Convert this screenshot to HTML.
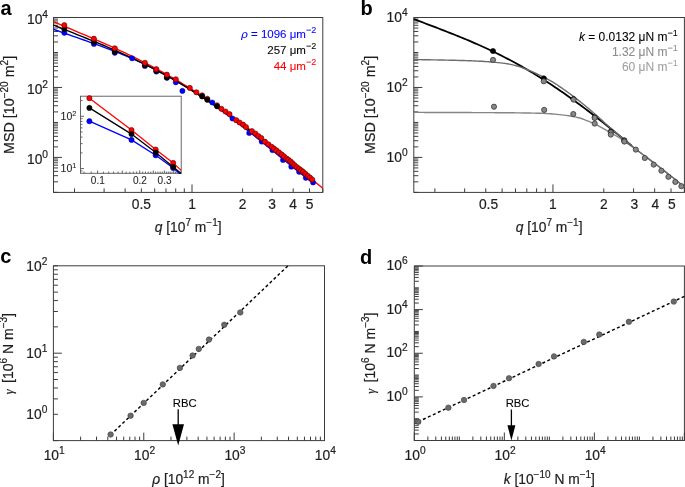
<!DOCTYPE html>
<html><head><meta charset="utf-8"><title>Figure</title>
<style>
html,body{margin:0;padding:0;background:#fff;width:685px;height:487px;overflow:hidden;}
svg{display:block;font-family:"Liberation Sans", sans-serif;will-change:transform;}
</style></head><body>
<svg width="685" height="487" viewBox="0 0 685 487">
<rect width="685" height="487" fill="#fff"/>
<text x="0.4" y="14.6" font-size="20" font-weight="bold" fill="#000">a</text>
<text x="360.4" y="14.7" font-size="20" font-weight="bold" fill="#000">b</text>
<text x="0.3" y="263.3" font-size="20" font-weight="bold" fill="#000">c</text>
<text x="359.9" y="263.9" font-size="20" font-weight="bold" fill="#000">d</text>
<line x1="74.50" y1="192.40" x2="74.50" y2="188.40" stroke="#3c3c3c" stroke-width="1" />
<line x1="104.10" y1="192.40" x2="104.10" y2="188.40" stroke="#3c3c3c" stroke-width="1" />
<line x1="125.10" y1="192.40" x2="125.10" y2="188.40" stroke="#3c3c3c" stroke-width="1" />
<line x1="141.39" y1="192.40" x2="141.39" y2="188.40" stroke="#3c3c3c" stroke-width="1" />
<line x1="154.70" y1="192.40" x2="154.70" y2="188.40" stroke="#3c3c3c" stroke-width="1" />
<line x1="165.96" y1="192.40" x2="165.96" y2="188.40" stroke="#3c3c3c" stroke-width="1" />
<line x1="175.71" y1="192.40" x2="175.71" y2="188.40" stroke="#3c3c3c" stroke-width="1" />
<line x1="184.30" y1="192.40" x2="184.30" y2="188.40" stroke="#3c3c3c" stroke-width="1" />
<line x1="192.00" y1="192.40" x2="192.00" y2="184.40" stroke="#3c3c3c" stroke-width="1" />
<line x1="242.60" y1="192.40" x2="242.60" y2="188.40" stroke="#3c3c3c" stroke-width="1" />
<line x1="272.20" y1="192.40" x2="272.20" y2="188.40" stroke="#3c3c3c" stroke-width="1" />
<line x1="293.20" y1="192.40" x2="293.20" y2="188.40" stroke="#3c3c3c" stroke-width="1" />
<line x1="309.49" y1="192.40" x2="309.49" y2="188.40" stroke="#3c3c3c" stroke-width="1" />
<line x1="322.80" y1="192.40" x2="322.80" y2="188.40" stroke="#3c3c3c" stroke-width="1" />
<line x1="53.50" y1="192.37" x2="58.00" y2="192.37" stroke="#3c3c3c" stroke-width="1" />
<line x1="53.50" y1="181.84" x2="58.00" y2="181.84" stroke="#3c3c3c" stroke-width="1" />
<line x1="53.50" y1="175.69" x2="58.00" y2="175.69" stroke="#3c3c3c" stroke-width="1" />
<line x1="53.50" y1="171.32" x2="58.00" y2="171.32" stroke="#3c3c3c" stroke-width="1" />
<line x1="53.50" y1="167.93" x2="58.00" y2="167.93" stroke="#3c3c3c" stroke-width="1" />
<line x1="53.50" y1="165.16" x2="58.00" y2="165.16" stroke="#3c3c3c" stroke-width="1" />
<line x1="53.50" y1="162.82" x2="58.00" y2="162.82" stroke="#3c3c3c" stroke-width="1" />
<line x1="53.50" y1="160.79" x2="58.00" y2="160.79" stroke="#3c3c3c" stroke-width="1" />
<line x1="53.50" y1="159.00" x2="58.00" y2="159.00" stroke="#3c3c3c" stroke-width="1" />
<line x1="53.50" y1="157.40" x2="62.00" y2="157.40" stroke="#3c3c3c" stroke-width="1" />
<line x1="53.50" y1="146.87" x2="58.00" y2="146.87" stroke="#3c3c3c" stroke-width="1" />
<line x1="53.50" y1="140.72" x2="58.00" y2="140.72" stroke="#3c3c3c" stroke-width="1" />
<line x1="53.50" y1="136.35" x2="58.00" y2="136.35" stroke="#3c3c3c" stroke-width="1" />
<line x1="53.50" y1="132.96" x2="58.00" y2="132.96" stroke="#3c3c3c" stroke-width="1" />
<line x1="53.50" y1="130.19" x2="58.00" y2="130.19" stroke="#3c3c3c" stroke-width="1" />
<line x1="53.50" y1="127.85" x2="58.00" y2="127.85" stroke="#3c3c3c" stroke-width="1" />
<line x1="53.50" y1="125.82" x2="58.00" y2="125.82" stroke="#3c3c3c" stroke-width="1" />
<line x1="53.50" y1="124.03" x2="58.00" y2="124.03" stroke="#3c3c3c" stroke-width="1" />
<line x1="53.50" y1="122.43" x2="58.00" y2="122.43" stroke="#3c3c3c" stroke-width="1" />
<line x1="53.50" y1="111.90" x2="58.00" y2="111.90" stroke="#3c3c3c" stroke-width="1" />
<line x1="53.50" y1="105.75" x2="58.00" y2="105.75" stroke="#3c3c3c" stroke-width="1" />
<line x1="53.50" y1="101.38" x2="58.00" y2="101.38" stroke="#3c3c3c" stroke-width="1" />
<line x1="53.50" y1="97.99" x2="58.00" y2="97.99" stroke="#3c3c3c" stroke-width="1" />
<line x1="53.50" y1="95.22" x2="58.00" y2="95.22" stroke="#3c3c3c" stroke-width="1" />
<line x1="53.50" y1="92.88" x2="58.00" y2="92.88" stroke="#3c3c3c" stroke-width="1" />
<line x1="53.50" y1="90.85" x2="58.00" y2="90.85" stroke="#3c3c3c" stroke-width="1" />
<line x1="53.50" y1="89.06" x2="58.00" y2="89.06" stroke="#3c3c3c" stroke-width="1" />
<line x1="53.50" y1="87.46" x2="62.00" y2="87.46" stroke="#3c3c3c" stroke-width="1" />
<line x1="53.50" y1="76.93" x2="58.00" y2="76.93" stroke="#3c3c3c" stroke-width="1" />
<line x1="53.50" y1="70.78" x2="58.00" y2="70.78" stroke="#3c3c3c" stroke-width="1" />
<line x1="53.50" y1="66.41" x2="58.00" y2="66.41" stroke="#3c3c3c" stroke-width="1" />
<line x1="53.50" y1="63.02" x2="58.00" y2="63.02" stroke="#3c3c3c" stroke-width="1" />
<line x1="53.50" y1="60.25" x2="58.00" y2="60.25" stroke="#3c3c3c" stroke-width="1" />
<line x1="53.50" y1="57.91" x2="58.00" y2="57.91" stroke="#3c3c3c" stroke-width="1" />
<line x1="53.50" y1="55.88" x2="58.00" y2="55.88" stroke="#3c3c3c" stroke-width="1" />
<line x1="53.50" y1="54.09" x2="58.00" y2="54.09" stroke="#3c3c3c" stroke-width="1" />
<line x1="53.50" y1="52.49" x2="58.00" y2="52.49" stroke="#3c3c3c" stroke-width="1" />
<line x1="53.50" y1="41.96" x2="58.00" y2="41.96" stroke="#3c3c3c" stroke-width="1" />
<line x1="53.50" y1="35.81" x2="58.00" y2="35.81" stroke="#3c3c3c" stroke-width="1" />
<line x1="53.50" y1="31.44" x2="58.00" y2="31.44" stroke="#3c3c3c" stroke-width="1" />
<line x1="53.50" y1="28.05" x2="58.00" y2="28.05" stroke="#3c3c3c" stroke-width="1" />
<line x1="53.50" y1="25.28" x2="58.00" y2="25.28" stroke="#3c3c3c" stroke-width="1" />
<line x1="53.50" y1="22.94" x2="58.00" y2="22.94" stroke="#3c3c3c" stroke-width="1" />
<line x1="53.50" y1="20.91" x2="58.00" y2="20.91" stroke="#3c3c3c" stroke-width="1" />
<line x1="53.50" y1="19.12" x2="58.00" y2="19.12" stroke="#3c3c3c" stroke-width="1" />
<line x1="53.50" y1="17.52" x2="62.00" y2="17.52" stroke="#3c3c3c" stroke-width="1" />
<rect x="53.50" y="17.50" width="269.30" height="174.90" fill="none" stroke="#3c3c3c" stroke-width="1"/>
<text x="141.39" y="209.1" font-size="13.8" text-anchor="middle" fill="#1e1e1e" stroke="#1e1e1e" stroke-width="0.2">0.5</text>
<text x="192.00" y="209.1" font-size="13.8" text-anchor="middle" fill="#1e1e1e" stroke="#1e1e1e" stroke-width="0.2">1</text>
<text x="242.60" y="209.1" font-size="13.8" text-anchor="middle" fill="#1e1e1e" stroke="#1e1e1e" stroke-width="0.2">2</text>
<text x="272.20" y="209.1" font-size="13.8" text-anchor="middle" fill="#1e1e1e" stroke="#1e1e1e" stroke-width="0.2">3</text>
<text x="293.20" y="209.1" font-size="13.8" text-anchor="middle" fill="#1e1e1e" stroke="#1e1e1e" stroke-width="0.2">4</text>
<text x="309.49" y="209.1" font-size="13.8" text-anchor="middle" fill="#1e1e1e" stroke="#1e1e1e" stroke-width="0.2">5</text>
<text x="48.00" y="24.32" font-size="13.8" text-anchor="end" fill="#1e1e1e" stroke="#1e1e1e" stroke-width="0.2">10<tspan dy="-6.3" font-size="10.2">4</tspan></text>
<text x="48.00" y="94.26" font-size="13.8" text-anchor="end" fill="#1e1e1e" stroke="#1e1e1e" stroke-width="0.2">10<tspan dy="-6.3" font-size="10.2">2</tspan></text>
<text x="48.00" y="164.20" font-size="13.8" text-anchor="end" fill="#1e1e1e" stroke="#1e1e1e" stroke-width="0.2">10<tspan dy="-6.3" font-size="10.2">0</tspan></text>
<svg x="53.5" y="17.5" width="269.3" height="174.9" viewBox="53.5 17.5 269.3 174.9" overflow="hidden">
<g fill="none" stroke-width="1.4">
<path d="M53.50,29.33 L56.79,30.52 L60.08,31.70 L63.37,32.86 L66.66,34.02 L69.96,35.16 L73.25,36.31 L76.54,37.45 L79.83,38.59 L83.12,39.74 L86.41,40.89 L89.70,42.05 L92.99,43.22 L96.28,44.40 L99.58,45.60 L102.87,46.81 L106.16,48.04 L109.45,49.29 L112.74,50.56 L116.03,51.86 L119.32,53.17 L122.61,54.52 L125.91,55.89 L129.20,57.29 L132.49,58.71 L135.78,60.17 L139.07,61.66 L142.36,63.18 L145.65,64.74 L148.94,66.33 L152.23,67.95 L155.53,69.61 L158.82,71.31 L162.11,73.04 L165.40,74.81 L168.69,76.61 L171.98,78.45 L175.27,80.34 L178.56,82.25 L181.85,84.21 L185.15,86.20 L188.44,88.23 L191.73,90.30 L195.02,92.40 L198.31,94.55 L201.60,96.72 L204.89,98.93 L208.18,101.18 L211.47,103.46 L214.77,105.78 L218.06,108.12 L221.35,110.50 L224.64,112.91 L227.93,115.35 L231.22,117.81 L234.51,120.30 L237.80,122.82 L241.09,125.36 L244.39,127.93 L247.68,130.51 L250.97,133.12 L254.26,135.74 L257.55,138.38 L260.84,141.03 L264.13,143.70 L267.42,146.37 L270.72,149.05 L274.01,151.74 L277.30,154.43 L280.59,157.12 L283.88,159.81 L287.17,162.50 L290.46,165.18 L293.75,167.85 L297.04,170.51 L300.34,173.15 L303.63,175.78 L306.92,178.38 L310.21,180.96 L313.50,183.51" stroke="#0000ff"/>
<path d="M53.50,21.68 L56.91,23.15 L60.32,24.60 L63.73,26.05 L67.14,27.49 L70.54,28.94 L73.95,30.38 L77.36,31.82 L80.77,33.27 L84.18,34.72 L87.59,36.17 L91.00,37.64 L94.41,39.11 L97.82,40.59 L101.22,42.09 L104.63,43.59 L108.04,45.11 L111.45,46.65 L114.86,48.20 L118.27,49.77 L121.68,51.36 L125.09,52.97 L128.49,54.59 L131.90,56.24 L135.31,57.91 L138.72,59.61 L142.13,61.32 L145.54,63.07 L148.95,64.83 L152.36,66.63 L155.77,68.44 L159.17,70.29 L162.58,72.16 L165.99,74.06 L169.40,75.99 L172.81,77.94 L176.22,79.93 L179.63,81.94 L183.04,83.99 L186.45,86.06 L189.85,88.16 L193.26,90.29 L196.67,92.45 L200.08,94.63 L203.49,96.85 L206.90,99.10 L210.31,101.37 L213.72,103.67 L217.13,106.00 L220.53,108.36 L223.94,110.75 L227.35,113.16 L230.76,115.60 L234.17,118.07 L237.58,120.56 L240.99,123.07 L244.40,125.61 L247.81,128.17 L251.21,130.76 L254.62,133.36 L258.03,135.99 L261.44,138.64 L264.85,141.30 L268.26,143.98 L271.67,146.68 L275.08,149.40 L278.48,152.13 L281.89,154.87 L285.30,157.63 L288.71,160.39 L292.12,163.17 L295.53,165.95 L298.94,168.74 L302.35,171.54 L305.76,174.33 L309.16,177.13 L312.57,179.93 L315.98,182.73 L319.39,185.53 L322.80,188.32" stroke="#ff0000"/>
<path d="M53.50,25.16 L56.78,26.47 L60.06,27.77 L63.34,29.07 L66.61,30.37 L69.89,31.67 L73.17,32.97 L76.45,34.28 L79.73,35.59 L83.01,36.91 L86.28,38.23 L89.56,39.56 L92.84,40.91 L96.12,42.26 L99.40,43.63 L102.68,45.01 L105.96,46.40 L109.23,47.81 L112.51,49.24 L115.79,50.68 L119.07,52.14 L122.35,53.62 L125.63,55.11 L128.91,56.63 L132.18,58.17 L135.46,59.73 L138.74,61.32 L142.02,62.92 L145.30,64.55 L148.58,66.21 L151.85,67.89 L155.13,69.59 L158.41,71.32 L161.69,73.08 L164.97,74.86 L168.25,76.67 L171.53,78.51 L174.80,80.38 L178.08,82.27 L181.36,84.19 L184.64,86.13 L187.92,88.11 L191.20,90.11 L194.47,92.15 L197.75,94.21 L201.03,96.29 L204.31,98.41 L207.59,100.55 L210.87,102.73 L214.15,104.93 L217.42,107.15 L220.70,109.41 L223.98,111.69 L227.26,114.00 L230.54,116.33 L233.82,118.69 L237.09,121.08 L240.37,123.49 L243.65,125.92 L246.93,128.38 L250.21,130.86 L253.49,133.37 L256.77,135.89 L260.04,138.44 L263.32,141.01 L266.60,143.60 L269.88,146.21 L273.16,148.84 L276.44,151.48 L279.72,154.14 L282.99,156.81 L286.27,159.50 L289.55,162.21 L292.83,164.93 L296.11,167.65 L299.39,170.39 L302.66,173.14 L305.94,175.89 L309.22,178.66 L312.50,181.42" stroke="#000000"/>
</g>
</svg>
<circle cx="64.30" cy="32.80" r="2.6" fill="#0000ff" stroke="#00008c" stroke-width="0.5"/>
<circle cx="93.90" cy="43.90" r="2.6" fill="#0000ff" stroke="#00008c" stroke-width="0.5"/>
<circle cx="114.80" cy="52.80" r="2.6" fill="#0000ff" stroke="#00008c" stroke-width="0.5"/>
<circle cx="132.10" cy="58.30" r="2.6" fill="#0000ff" stroke="#00008c" stroke-width="0.5"/>
<circle cx="144.90" cy="66.00" r="2.6" fill="#0000ff" stroke="#00008c" stroke-width="0.5"/>
<circle cx="156.30" cy="71.60" r="2.6" fill="#0000ff" stroke="#00008c" stroke-width="0.5"/>
<circle cx="166.90" cy="77.80" r="2.6" fill="#0000ff" stroke="#00008c" stroke-width="0.5"/>
<circle cx="175.80" cy="82.30" r="2.6" fill="#0000ff" stroke="#00008c" stroke-width="0.5"/>
<circle cx="182.40" cy="90.90" r="2.6" fill="#0000ff" stroke="#00008c" stroke-width="0.5"/>
<circle cx="212.30" cy="102.50" r="2.6" fill="#0000ff" stroke="#00008c" stroke-width="0.5"/>
<circle cx="232.50" cy="118.50" r="2.6" fill="#0000ff" stroke="#00008c" stroke-width="0.5"/>
<circle cx="249.20" cy="133.00" r="2.6" fill="#0000ff" stroke="#00008c" stroke-width="0.5"/>
<circle cx="261.70" cy="141.60" r="2.6" fill="#0000ff" stroke="#00008c" stroke-width="0.5"/>
<circle cx="272.40" cy="150.10" r="2.6" fill="#0000ff" stroke="#00008c" stroke-width="0.5"/>
<circle cx="283.00" cy="160.00" r="2.6" fill="#0000ff" stroke="#00008c" stroke-width="0.5"/>
<circle cx="291.30" cy="166.70" r="2.6" fill="#0000ff" stroke="#00008c" stroke-width="0.5"/>
<circle cx="299.10" cy="171.80" r="2.6" fill="#0000ff" stroke="#00008c" stroke-width="0.5"/>
<circle cx="305.80" cy="177.80" r="2.6" fill="#0000ff" stroke="#00008c" stroke-width="0.5"/>
<circle cx="313.10" cy="182.40" r="2.6" fill="#0000ff" stroke="#00008c" stroke-width="0.5"/>
<circle cx="64.30" cy="29.10" r="2.6" fill="#000" stroke="#000" stroke-width="0.6"/>
<circle cx="93.90" cy="42.10" r="2.6" fill="#000" stroke="#000" stroke-width="0.6"/>
<circle cx="114.80" cy="51.80" r="2.6" fill="#000" stroke="#000" stroke-width="0.6"/>
<circle cx="144.90" cy="65.20" r="2.6" fill="#000" stroke="#000" stroke-width="0.6"/>
<circle cx="156.30" cy="70.80" r="2.6" fill="#000" stroke="#000" stroke-width="0.6"/>
<circle cx="166.90" cy="77.40" r="2.6" fill="#000" stroke="#000" stroke-width="0.6"/>
<circle cx="64.30" cy="25.20" r="2.6" fill="#ff0000" stroke="#4a0000" stroke-width="0.6"/>
<circle cx="93.90" cy="38.70" r="2.6" fill="#ff0000" stroke="#4a0000" stroke-width="0.6"/>
<circle cx="114.80" cy="48.30" r="2.6" fill="#ff0000" stroke="#4a0000" stroke-width="0.6"/>
<circle cx="144.90" cy="62.80" r="2.6" fill="#ff0000" stroke="#4a0000" stroke-width="0.6"/>
<circle cx="156.30" cy="69.20" r="2.6" fill="#ff0000" stroke="#4a0000" stroke-width="0.6"/>
<circle cx="166.90" cy="74.65" r="2.6" fill="#ff0000" stroke="#4a0000" stroke-width="0.6"/>
<circle cx="175.80" cy="79.30" r="2.6" fill="#ff0000" stroke="#4a0000" stroke-width="0.6"/>
<circle cx="189.80" cy="87.90" r="2.6" fill="#ff0000" stroke="#4a0000" stroke-width="0.6"/>
<circle cx="196.40" cy="92.30" r="2.6" fill="#ff0000" stroke="#4a0000" stroke-width="0.6"/>
<circle cx="202.10" cy="95.40" r="2.6" fill="#ff0000" stroke="#4a0000" stroke-width="0.6"/>
<circle cx="207.30" cy="98.80" r="2.6" fill="#ff0000" stroke="#4a0000" stroke-width="0.6"/>
<circle cx="217.00" cy="105.30" r="2.6" fill="#ff0000" stroke="#4a0000" stroke-width="0.6"/>
<circle cx="221.40" cy="108.80" r="2.6" fill="#ff0000" stroke="#4a0000" stroke-width="0.6"/>
<circle cx="225.50" cy="111.50" r="2.6" fill="#ff0000" stroke="#4a0000" stroke-width="0.6"/>
<circle cx="229.50" cy="114.10" r="2.6" fill="#ff0000" stroke="#4a0000" stroke-width="0.6"/>
<circle cx="236.20" cy="120.20" r="2.6" fill="#ff0000" stroke="#4a0000" stroke-width="0.6"/>
<circle cx="239.60" cy="122.50" r="2.6" fill="#ff0000" stroke="#4a0000" stroke-width="0.6"/>
<circle cx="243.10" cy="124.70" r="2.6" fill="#ff0000" stroke="#4a0000" stroke-width="0.6"/>
<circle cx="246.00" cy="127.10" r="2.6" fill="#ff0000" stroke="#4a0000" stroke-width="0.6"/>
<circle cx="251.90" cy="131.10" r="2.6" fill="#ff0000" stroke="#4a0000" stroke-width="0.6"/>
<circle cx="255.40" cy="133.50" r="2.6" fill="#ff0000" stroke="#4a0000" stroke-width="0.6"/>
<circle cx="258.30" cy="136.00" r="2.6" fill="#ff0000" stroke="#4a0000" stroke-width="0.6"/>
<circle cx="261.30" cy="138.00" r="2.6" fill="#ff0000" stroke="#4a0000" stroke-width="0.6"/>
<circle cx="265.00" cy="141.70" r="2.6" fill="#ff0000" stroke="#4a0000" stroke-width="0.6"/>
<circle cx="268.40" cy="144.40" r="2.6" fill="#ff0000" stroke="#4a0000" stroke-width="0.6"/>
<circle cx="271.70" cy="146.80" r="2.6" fill="#ff0000" stroke="#4a0000" stroke-width="0.6"/>
<circle cx="274.00" cy="148.60" r="2.6" fill="#ff0000" stroke="#4a0000" stroke-width="0.6"/>
<circle cx="276.40" cy="150.40" r="2.6" fill="#ff0000" stroke="#4a0000" stroke-width="0.6"/>
<circle cx="279.00" cy="152.40" r="2.6" fill="#ff0000" stroke="#4a0000" stroke-width="0.6"/>
<circle cx="281.70" cy="154.40" r="2.6" fill="#ff0000" stroke="#4a0000" stroke-width="0.6"/>
<circle cx="284.00" cy="156.40" r="2.6" fill="#ff0000" stroke="#4a0000" stroke-width="0.6"/>
<circle cx="286.40" cy="158.40" r="2.6" fill="#ff0000" stroke="#4a0000" stroke-width="0.6"/>
<circle cx="288.40" cy="159.80" r="2.6" fill="#ff0000" stroke="#4a0000" stroke-width="0.6"/>
<circle cx="290.40" cy="161.30" r="2.6" fill="#ff0000" stroke="#4a0000" stroke-width="0.6"/>
<circle cx="292.40" cy="163.20" r="2.6" fill="#ff0000" stroke="#4a0000" stroke-width="0.6"/>
<circle cx="294.40" cy="165.10" r="2.6" fill="#ff0000" stroke="#4a0000" stroke-width="0.6"/>
<circle cx="296.80" cy="167.00" r="2.6" fill="#ff0000" stroke="#4a0000" stroke-width="0.6"/>
<circle cx="299.10" cy="168.80" r="2.6" fill="#ff0000" stroke="#4a0000" stroke-width="0.6"/>
<circle cx="301.10" cy="170.30" r="2.6" fill="#ff0000" stroke="#4a0000" stroke-width="0.6"/>
<circle cx="303.10" cy="171.80" r="2.6" fill="#ff0000" stroke="#4a0000" stroke-width="0.6"/>
<circle cx="305.40" cy="173.80" r="2.6" fill="#ff0000" stroke="#4a0000" stroke-width="0.6"/>
<circle cx="307.80" cy="175.80" r="2.6" fill="#ff0000" stroke="#4a0000" stroke-width="0.6"/>
<circle cx="310.00" cy="177.60" r="2.6" fill="#ff0000" stroke="#4a0000" stroke-width="0.6"/>
<circle cx="312.20" cy="179.50" r="2.6" fill="#ff0000" stroke="#4a0000" stroke-width="0.6"/>
<circle cx="202.10" cy="96.40" r="2.6" fill="#000" stroke="#000" stroke-width="0.6"/>
<circle cx="207.30" cy="99.80" r="2.6" fill="#000" stroke="#000" stroke-width="0.6"/>
<circle cx="217.00" cy="106.30" r="2.6" fill="#000" stroke="#000" stroke-width="0.6"/>
<text x="316.2" y="38.4" font-size="11.5" text-anchor="end" fill="#0000ff" stroke="#0000ff" stroke-width="0.08"><tspan font-style="italic">ρ</tspan> = 1096 μm<tspan dy="-5" font-size="9">−2</tspan></text>
<text x="316.2" y="54.1" font-size="11.5" text-anchor="end" fill="#000" stroke="#000" stroke-width="0.08">257 μm<tspan dy="-5" font-size="9">−2</tspan></text>
<text x="316.2" y="69.7" font-size="11.5" text-anchor="end" fill="#ff0000" stroke="#ff0000" stroke-width="0.08">44 μm<tspan dy="-5" font-size="9">−2</tspan></text>
<rect x="80.5" y="96.2" width="100.7" height="77.1" fill="#fff" stroke="none"/>
<line x1="84.04" y1="173.30" x2="84.04" y2="171.60" stroke="#3c3c3c" stroke-width="0.8" />
<line x1="91.20" y1="173.30" x2="91.20" y2="171.60" stroke="#3c3c3c" stroke-width="0.8" />
<line x1="97.60" y1="173.30" x2="97.60" y2="170.50" stroke="#3c3c3c" stroke-width="0.8" />
<line x1="103.39" y1="173.30" x2="103.39" y2="171.60" stroke="#3c3c3c" stroke-width="0.8" />
<line x1="108.68" y1="173.30" x2="108.68" y2="171.60" stroke="#3c3c3c" stroke-width="0.8" />
<line x1="113.54" y1="173.30" x2="113.54" y2="171.60" stroke="#3c3c3c" stroke-width="0.8" />
<line x1="118.04" y1="173.30" x2="118.04" y2="171.60" stroke="#3c3c3c" stroke-width="0.8" />
<line x1="122.24" y1="173.30" x2="122.24" y2="170.50" stroke="#3c3c3c" stroke-width="0.8" />
<line x1="126.16" y1="173.30" x2="126.16" y2="171.60" stroke="#3c3c3c" stroke-width="0.8" />
<line x1="129.84" y1="173.30" x2="129.84" y2="171.60" stroke="#3c3c3c" stroke-width="0.8" />
<line x1="133.31" y1="173.30" x2="133.31" y2="171.60" stroke="#3c3c3c" stroke-width="0.8" />
<line x1="136.60" y1="173.30" x2="136.60" y2="171.60" stroke="#3c3c3c" stroke-width="0.8" />
<line x1="139.71" y1="173.30" x2="139.71" y2="170.50" stroke="#3c3c3c" stroke-width="0.8" />
<line x1="142.68" y1="173.30" x2="142.68" y2="171.60" stroke="#3c3c3c" stroke-width="0.8" />
<line x1="145.50" y1="173.30" x2="145.50" y2="171.60" stroke="#3c3c3c" stroke-width="0.8" />
<line x1="148.21" y1="173.30" x2="148.21" y2="171.60" stroke="#3c3c3c" stroke-width="0.8" />
<line x1="150.79" y1="173.30" x2="150.79" y2="171.60" stroke="#3c3c3c" stroke-width="0.8" />
<line x1="153.27" y1="173.30" x2="153.27" y2="170.50" stroke="#3c3c3c" stroke-width="0.8" />
<line x1="155.65" y1="173.30" x2="155.65" y2="171.60" stroke="#3c3c3c" stroke-width="0.8" />
<line x1="157.95" y1="173.30" x2="157.95" y2="171.60" stroke="#3c3c3c" stroke-width="0.8" />
<line x1="160.16" y1="173.30" x2="160.16" y2="171.60" stroke="#3c3c3c" stroke-width="0.8" />
<line x1="162.29" y1="173.30" x2="162.29" y2="171.60" stroke="#3c3c3c" stroke-width="0.8" />
<line x1="164.35" y1="173.30" x2="164.35" y2="170.50" stroke="#3c3c3c" stroke-width="0.8" />
<line x1="166.34" y1="173.30" x2="166.34" y2="171.60" stroke="#3c3c3c" stroke-width="0.8" />
<line x1="168.27" y1="173.30" x2="168.27" y2="171.60" stroke="#3c3c3c" stroke-width="0.8" />
<line x1="170.14" y1="173.30" x2="170.14" y2="171.60" stroke="#3c3c3c" stroke-width="0.8" />
<line x1="171.95" y1="173.30" x2="171.95" y2="171.60" stroke="#3c3c3c" stroke-width="0.8" />
<line x1="173.72" y1="173.30" x2="173.72" y2="170.50" stroke="#3c3c3c" stroke-width="0.8" />
<line x1="175.43" y1="173.30" x2="175.43" y2="171.60" stroke="#3c3c3c" stroke-width="0.8" />
<line x1="177.09" y1="173.30" x2="177.09" y2="171.60" stroke="#3c3c3c" stroke-width="0.8" />
<line x1="178.71" y1="173.30" x2="178.71" y2="171.60" stroke="#3c3c3c" stroke-width="0.8" />
<line x1="180.29" y1="173.30" x2="180.29" y2="171.60" stroke="#3c3c3c" stroke-width="0.8" />
<line x1="80.50" y1="170.99" x2="82.50" y2="170.99" stroke="#3c3c3c" stroke-width="0.8" />
<line x1="80.50" y1="168.60" x2="84.00" y2="168.60" stroke="#3c3c3c" stroke-width="0.8" />
<line x1="80.50" y1="152.86" x2="82.50" y2="152.86" stroke="#3c3c3c" stroke-width="0.8" />
<line x1="80.50" y1="143.65" x2="82.50" y2="143.65" stroke="#3c3c3c" stroke-width="0.8" />
<line x1="80.50" y1="137.11" x2="82.50" y2="137.11" stroke="#3c3c3c" stroke-width="0.8" />
<line x1="80.50" y1="132.04" x2="82.50" y2="132.04" stroke="#3c3c3c" stroke-width="0.8" />
<line x1="80.50" y1="127.90" x2="82.50" y2="127.90" stroke="#3c3c3c" stroke-width="0.8" />
<line x1="80.50" y1="124.40" x2="82.50" y2="124.40" stroke="#3c3c3c" stroke-width="0.8" />
<line x1="80.50" y1="121.37" x2="82.50" y2="121.37" stroke="#3c3c3c" stroke-width="0.8" />
<line x1="80.50" y1="118.69" x2="82.50" y2="118.69" stroke="#3c3c3c" stroke-width="0.8" />
<line x1="80.50" y1="116.30" x2="84.00" y2="116.30" stroke="#3c3c3c" stroke-width="0.8" />
<line x1="80.50" y1="100.56" x2="82.50" y2="100.56" stroke="#3c3c3c" stroke-width="0.8" />
<rect x="80.50" y="96.20" width="100.70" height="77.10" fill="none" stroke="#555" stroke-width="0.9"/>
<text x="97.80" y="184.4" font-size="10" text-anchor="middle" fill="#1e1e1e" stroke="#1e1e1e" stroke-width="0.08">0.1</text>
<text x="139.91" y="184.4" font-size="10" text-anchor="middle" fill="#1e1e1e" stroke="#1e1e1e" stroke-width="0.08">0.2</text>
<text x="164.55" y="184.4" font-size="10" text-anchor="middle" fill="#1e1e1e" stroke="#1e1e1e" stroke-width="0.08">0.3</text>
<text x="76.40" y="120.00" font-size="10.5" text-anchor="end" fill="#1e1e1e" stroke="#1e1e1e" stroke-width="0.08">10<tspan dy="-4.4" font-size="7.4">2</tspan></text>
<text x="76.40" y="172.30" font-size="10.5" text-anchor="end" fill="#1e1e1e" stroke="#1e1e1e" stroke-width="0.08">10<tspan dy="-4.4" font-size="7.4">1</tspan></text>
<svg x="80.5" y="96.2" width="100.7" height="77.1" viewBox="80.5 96.2 100.7 77.1" overflow="hidden">
<polyline points="89.4,121.2 131.5,139.9 155.7,155.3 173.2,168.0 181.2,175.0" fill="none" stroke="#0000ff" stroke-width="1.3"/>
<polyline points="89.4,98.2 131.5,130.0 155.7,149.5 173.2,162.9 181.2,170.4" fill="none" stroke="#ff0000" stroke-width="1.3"/>
<polyline points="89.4,107.9 131.5,134.1 155.7,152.6 173.2,167.0 181.2,173.5" fill="none" stroke="#000000" stroke-width="1.3"/>
</svg>
<circle cx="89.40" cy="121.20" r="2.6" fill="#0000ff" stroke="#0000a0" stroke-width="0.6"/>
<circle cx="131.50" cy="139.90" r="2.6" fill="#0000ff" stroke="#0000a0" stroke-width="0.6"/>
<circle cx="155.70" cy="155.30" r="2.6" fill="#0000ff" stroke="#0000a0" stroke-width="0.6"/>
<circle cx="173.20" cy="168.00" r="2.6" fill="#0000ff" stroke="#0000a0" stroke-width="0.6"/>
<circle cx="89.40" cy="98.20" r="2.6" fill="#ff0000" stroke="#5a0000" stroke-width="0.6"/>
<circle cx="131.50" cy="130.00" r="2.6" fill="#ff0000" stroke="#5a0000" stroke-width="0.6"/>
<circle cx="155.70" cy="149.50" r="2.6" fill="#ff0000" stroke="#5a0000" stroke-width="0.6"/>
<circle cx="173.20" cy="162.90" r="2.6" fill="#ff0000" stroke="#5a0000" stroke-width="0.6"/>
<circle cx="89.40" cy="107.90" r="2.6" fill="#000000" stroke="#000" stroke-width="0.6"/>
<circle cx="131.50" cy="134.10" r="2.6" fill="#000000" stroke="#000" stroke-width="0.6"/>
<circle cx="155.70" cy="152.60" r="2.6" fill="#000000" stroke="#000" stroke-width="0.6"/>
<circle cx="173.20" cy="167.00" r="2.6" fill="#000000" stroke="#000" stroke-width="0.6"/>
<text x="188.2" y="231.9" font-size="13.8" text-anchor="middle" fill="#1e1e1e" stroke="#1e1e1e" stroke-width="0.2"><tspan font-style="italic">q</tspan> [10<tspan dy="-5.9" font-size="10">7</tspan><tspan dy="5.9"> m</tspan><tspan dy="-5.9" font-size="10">−1</tspan><tspan dy="5.9">]</tspan></text>
<text transform="translate(13.9,104.9) rotate(-90)" x="0" y="0" font-size="14.3" text-anchor="middle" fill="#1e1e1e" stroke="#1e1e1e" stroke-width="0.2">MSD [10<tspan dy="-5.9" font-size="10">−20</tspan><tspan dy="5.9"> m</tspan><tspan dy="-5.9" font-size="10">2</tspan><tspan dy="5.9">]</tspan></text>
<line x1="434.90" y1="192.40" x2="434.90" y2="188.40" stroke="#3c3c3c" stroke-width="1" />
<line x1="464.65" y1="192.40" x2="464.65" y2="188.40" stroke="#3c3c3c" stroke-width="1" />
<line x1="485.75" y1="192.40" x2="485.75" y2="188.40" stroke="#3c3c3c" stroke-width="1" />
<line x1="502.12" y1="192.40" x2="502.12" y2="188.40" stroke="#3c3c3c" stroke-width="1" />
<line x1="515.49" y1="192.40" x2="515.49" y2="188.40" stroke="#3c3c3c" stroke-width="1" />
<line x1="526.80" y1="192.40" x2="526.80" y2="188.40" stroke="#3c3c3c" stroke-width="1" />
<line x1="536.60" y1="192.40" x2="536.60" y2="188.40" stroke="#3c3c3c" stroke-width="1" />
<line x1="545.24" y1="192.40" x2="545.24" y2="188.40" stroke="#3c3c3c" stroke-width="1" />
<line x1="552.96" y1="192.40" x2="552.96" y2="184.40" stroke="#3c3c3c" stroke-width="1" />
<line x1="603.81" y1="192.40" x2="603.81" y2="188.40" stroke="#3c3c3c" stroke-width="1" />
<line x1="633.55" y1="192.40" x2="633.55" y2="188.40" stroke="#3c3c3c" stroke-width="1" />
<line x1="654.66" y1="192.40" x2="654.66" y2="188.40" stroke="#3c3c3c" stroke-width="1" />
<line x1="671.03" y1="192.40" x2="671.03" y2="188.40" stroke="#3c3c3c" stroke-width="1" />
<line x1="684.40" y1="192.40" x2="684.40" y2="188.40" stroke="#3c3c3c" stroke-width="1" />
<line x1="413.80" y1="192.37" x2="418.30" y2="192.37" stroke="#3c3c3c" stroke-width="1" />
<line x1="413.80" y1="181.84" x2="418.30" y2="181.84" stroke="#3c3c3c" stroke-width="1" />
<line x1="413.80" y1="175.69" x2="418.30" y2="175.69" stroke="#3c3c3c" stroke-width="1" />
<line x1="413.80" y1="171.32" x2="418.30" y2="171.32" stroke="#3c3c3c" stroke-width="1" />
<line x1="413.80" y1="167.93" x2="418.30" y2="167.93" stroke="#3c3c3c" stroke-width="1" />
<line x1="413.80" y1="165.16" x2="418.30" y2="165.16" stroke="#3c3c3c" stroke-width="1" />
<line x1="413.80" y1="162.82" x2="418.30" y2="162.82" stroke="#3c3c3c" stroke-width="1" />
<line x1="413.80" y1="160.79" x2="418.30" y2="160.79" stroke="#3c3c3c" stroke-width="1" />
<line x1="413.80" y1="159.00" x2="418.30" y2="159.00" stroke="#3c3c3c" stroke-width="1" />
<line x1="413.80" y1="157.40" x2="422.30" y2="157.40" stroke="#3c3c3c" stroke-width="1" />
<line x1="413.80" y1="146.87" x2="418.30" y2="146.87" stroke="#3c3c3c" stroke-width="1" />
<line x1="413.80" y1="140.72" x2="418.30" y2="140.72" stroke="#3c3c3c" stroke-width="1" />
<line x1="413.80" y1="136.35" x2="418.30" y2="136.35" stroke="#3c3c3c" stroke-width="1" />
<line x1="413.80" y1="132.96" x2="418.30" y2="132.96" stroke="#3c3c3c" stroke-width="1" />
<line x1="413.80" y1="130.19" x2="418.30" y2="130.19" stroke="#3c3c3c" stroke-width="1" />
<line x1="413.80" y1="127.85" x2="418.30" y2="127.85" stroke="#3c3c3c" stroke-width="1" />
<line x1="413.80" y1="125.82" x2="418.30" y2="125.82" stroke="#3c3c3c" stroke-width="1" />
<line x1="413.80" y1="124.03" x2="418.30" y2="124.03" stroke="#3c3c3c" stroke-width="1" />
<line x1="413.80" y1="122.43" x2="418.30" y2="122.43" stroke="#3c3c3c" stroke-width="1" />
<line x1="413.80" y1="111.90" x2="418.30" y2="111.90" stroke="#3c3c3c" stroke-width="1" />
<line x1="413.80" y1="105.75" x2="418.30" y2="105.75" stroke="#3c3c3c" stroke-width="1" />
<line x1="413.80" y1="101.38" x2="418.30" y2="101.38" stroke="#3c3c3c" stroke-width="1" />
<line x1="413.80" y1="97.99" x2="418.30" y2="97.99" stroke="#3c3c3c" stroke-width="1" />
<line x1="413.80" y1="95.22" x2="418.30" y2="95.22" stroke="#3c3c3c" stroke-width="1" />
<line x1="413.80" y1="92.88" x2="418.30" y2="92.88" stroke="#3c3c3c" stroke-width="1" />
<line x1="413.80" y1="90.85" x2="418.30" y2="90.85" stroke="#3c3c3c" stroke-width="1" />
<line x1="413.80" y1="89.06" x2="418.30" y2="89.06" stroke="#3c3c3c" stroke-width="1" />
<line x1="413.80" y1="87.46" x2="422.30" y2="87.46" stroke="#3c3c3c" stroke-width="1" />
<line x1="413.80" y1="76.93" x2="418.30" y2="76.93" stroke="#3c3c3c" stroke-width="1" />
<line x1="413.80" y1="70.78" x2="418.30" y2="70.78" stroke="#3c3c3c" stroke-width="1" />
<line x1="413.80" y1="66.41" x2="418.30" y2="66.41" stroke="#3c3c3c" stroke-width="1" />
<line x1="413.80" y1="63.02" x2="418.30" y2="63.02" stroke="#3c3c3c" stroke-width="1" />
<line x1="413.80" y1="60.25" x2="418.30" y2="60.25" stroke="#3c3c3c" stroke-width="1" />
<line x1="413.80" y1="57.91" x2="418.30" y2="57.91" stroke="#3c3c3c" stroke-width="1" />
<line x1="413.80" y1="55.88" x2="418.30" y2="55.88" stroke="#3c3c3c" stroke-width="1" />
<line x1="413.80" y1="54.09" x2="418.30" y2="54.09" stroke="#3c3c3c" stroke-width="1" />
<line x1="413.80" y1="52.49" x2="418.30" y2="52.49" stroke="#3c3c3c" stroke-width="1" />
<line x1="413.80" y1="41.96" x2="418.30" y2="41.96" stroke="#3c3c3c" stroke-width="1" />
<line x1="413.80" y1="35.81" x2="418.30" y2="35.81" stroke="#3c3c3c" stroke-width="1" />
<line x1="413.80" y1="31.44" x2="418.30" y2="31.44" stroke="#3c3c3c" stroke-width="1" />
<line x1="413.80" y1="28.05" x2="418.30" y2="28.05" stroke="#3c3c3c" stroke-width="1" />
<line x1="413.80" y1="25.28" x2="418.30" y2="25.28" stroke="#3c3c3c" stroke-width="1" />
<line x1="413.80" y1="22.94" x2="418.30" y2="22.94" stroke="#3c3c3c" stroke-width="1" />
<line x1="413.80" y1="20.91" x2="418.30" y2="20.91" stroke="#3c3c3c" stroke-width="1" />
<line x1="413.80" y1="19.12" x2="418.30" y2="19.12" stroke="#3c3c3c" stroke-width="1" />
<line x1="413.80" y1="17.52" x2="422.30" y2="17.52" stroke="#3c3c3c" stroke-width="1" />
<rect x="413.80" y="17.50" width="270.60" height="174.90" fill="none" stroke="#3c3c3c" stroke-width="1"/>
<text x="488.50" y="209.1" font-size="13.8" text-anchor="middle" fill="#1e1e1e" stroke="#1e1e1e" stroke-width="0.2">0.5</text>
<text x="552.96" y="209.1" font-size="13.8" text-anchor="middle" fill="#1e1e1e" stroke="#1e1e1e" stroke-width="0.2">1</text>
<text x="603.81" y="209.1" font-size="13.8" text-anchor="middle" fill="#1e1e1e" stroke="#1e1e1e" stroke-width="0.2">2</text>
<text x="634.35" y="209.1" font-size="13.8" text-anchor="middle" fill="#1e1e1e" stroke="#1e1e1e" stroke-width="0.2">3</text>
<text x="655.46" y="209.1" font-size="13.8" text-anchor="middle" fill="#1e1e1e" stroke="#1e1e1e" stroke-width="0.2">4</text>
<text x="671.83" y="209.1" font-size="13.8" text-anchor="middle" fill="#1e1e1e" stroke="#1e1e1e" stroke-width="0.2">5</text>
<text x="407.60" y="21.92" font-size="13.8" text-anchor="end" fill="#1e1e1e" stroke="#1e1e1e" stroke-width="0.2">10<tspan dy="-6.3" font-size="10.2">4</tspan></text>
<text x="407.60" y="91.86" font-size="13.8" text-anchor="end" fill="#1e1e1e" stroke="#1e1e1e" stroke-width="0.2">10<tspan dy="-6.3" font-size="10.2">2</tspan></text>
<text x="407.60" y="161.80" font-size="13.8" text-anchor="end" fill="#1e1e1e" stroke="#1e1e1e" stroke-width="0.2">10<tspan dy="-6.3" font-size="10.2">0</tspan></text>
<svg x="413.8" y="17.5" width="270.6" height="174.9" viewBox="413.8 17.5 270.6 174.9" overflow="hidden">
<path d="M413.80,112.40 L416.07,112.41 L418.35,112.41 L420.62,112.42 L422.90,112.42 L425.17,112.43 L427.44,112.43 L429.72,112.44 L431.99,112.45 L434.27,112.45 L436.54,112.46 L438.81,112.47 L441.09,112.47 L443.36,112.48 L445.64,112.49 L447.91,112.49 L450.18,112.50 L452.46,112.51 L454.73,112.52 L457.01,112.52 L459.28,112.53 L461.55,112.54 L463.83,112.55 L466.10,112.55 L468.37,112.56 L470.65,112.57 L472.92,112.58 L475.20,112.59 L477.47,112.60 L479.74,112.61 L482.02,112.62 L484.29,112.63 L486.57,112.63 L488.84,112.64 L491.11,112.65 L493.39,112.66 L495.66,112.68 L497.94,112.69 L500.21,112.70 L502.48,112.72 L504.76,112.73 L507.03,112.75 L509.31,112.78 L511.58,112.80 L513.85,112.82 L516.13,112.85 L518.40,112.88 L520.68,112.91 L522.95,112.94 L525.22,112.97 L527.50,113.01 L529.77,113.05 L532.05,113.09 L534.32,113.14 L536.59,113.19 L538.87,113.25 L541.14,113.32 L543.42,113.39 L545.69,113.49 L547.96,113.62 L550.24,113.77 L552.51,113.96 L554.78,114.16 L557.06,114.37 L559.33,114.59 L561.61,114.83 L563.88,115.10 L566.15,115.40 L568.43,115.73 L570.70,116.09 L572.98,116.48 L575.25,116.93 L577.52,117.45 L579.80,118.04 L582.07,118.77 L584.35,119.63 L586.62,120.55 L588.89,121.46 L591.17,122.41 L593.44,123.42 L595.72,124.49 L597.99,125.65 L600.26,126.87 L602.54,128.10 L604.81,129.35 L607.09,130.62 L609.36,131.90 L611.63,133.21 L613.91,134.50 L616.18,135.79 L618.46,137.13 L620.73,138.53 L623.00,140.05 L625.28,141.70 L627.55,143.39 L629.83,145.07 L632.10,146.71 L634.37,148.34 L636.65,149.97 L638.92,151.61 L641.19,153.28 L643.47,154.98 L645.74,156.68 L648.02,158.40 L650.29,160.12 L652.56,161.83 L654.84,163.55 L657.11,165.28 L659.39,167.03 L661.66,168.79 L663.93,170.58 L666.21,172.39 L668.48,174.20 L670.76,176.01 L673.03,177.82 L675.30,179.63 L677.58,181.44 L679.85,183.26 L682.13,185.08 L684.40,186.90" fill="none" stroke="#858585" stroke-width="1.4"/>
<path d="M413.80,18.99 L416.56,20.07 L419.32,21.13 L422.09,22.19 L424.85,23.25 L427.61,24.30 L430.37,25.35 L433.13,26.41 L435.90,27.46 L438.66,28.52 L441.42,29.58 L444.18,30.65 L446.94,31.73 L449.71,32.81 L452.47,33.90 L455.23,35.00 L457.99,36.11 L460.75,37.23 L463.52,38.37 L466.28,39.52 L469.04,40.68 L471.80,41.86 L474.56,43.05 L477.33,44.26 L480.09,45.49 L482.85,46.74 L485.61,48.00 L488.37,49.29 L491.14,50.59 L493.90,51.92 L496.66,53.26 L499.42,54.63 L502.18,56.02 L504.95,57.43 L507.71,58.87 L510.47,60.32 L513.23,61.81 L515.99,63.31 L518.76,64.84 L521.52,66.39 L524.28,67.97 L527.04,69.57 L529.81,71.19 L532.57,72.84 L535.33,74.52 L538.09,76.21 L540.85,77.94 L543.62,79.68 L546.38,81.45 L549.14,83.25 L551.90,85.07 L554.66,86.91 L557.43,88.77 L560.19,90.66 L562.95,92.57 L565.71,94.50 L568.47,96.46 L571.24,98.43 L574.00,100.43 L576.76,102.45 L579.52,104.48 L582.28,106.54 L585.05,108.61 L587.81,110.70 L590.57,112.81 L593.33,114.94 L596.09,117.08 L598.86,119.23 L601.62,121.40 L604.38,123.59 L607.14,125.78 L609.90,127.99 L612.67,130.20 L615.43,132.43 L618.19,134.66 L620.95,136.90 L623.71,139.15 L626.48,141.40 L629.24,143.66 L632.00,145.92" fill="none" stroke="#000" stroke-width="1.8"/>
<path d="M413.80,59.60 L416.07,59.62 L418.35,59.64 L420.62,59.67 L422.90,59.70 L425.17,59.73 L427.44,59.76 L429.72,59.80 L431.99,59.84 L434.27,59.88 L436.54,59.92 L438.81,59.96 L441.09,60.01 L443.36,60.06 L445.64,60.10 L447.91,60.15 L450.18,60.20 L452.46,60.26 L454.73,60.31 L457.01,60.37 L459.28,60.43 L461.55,60.50 L463.83,60.57 L466.10,60.64 L468.37,60.72 L470.65,60.80 L472.92,60.89 L475.20,60.98 L477.47,61.08 L479.74,61.20 L482.02,61.32 L484.29,61.46 L486.57,61.62 L488.84,61.79 L491.11,61.97 L493.39,62.17 L495.66,62.37 L497.94,62.59 L500.21,62.84 L502.48,63.12 L504.76,63.43 L507.03,63.78 L509.31,64.18 L511.58,64.64 L513.85,65.15 L516.13,65.71 L518.40,66.38 L520.68,67.15 L522.95,67.99 L525.22,68.86 L527.50,69.75 L529.77,70.69 L532.05,71.67 L534.32,72.70 L536.59,73.75 L538.87,74.83 L541.14,75.93 L543.42,77.06 L545.69,78.22 L547.96,79.42 L550.24,80.66 L552.51,81.96 L554.78,83.32 L557.06,84.78 L559.33,86.31 L561.61,87.89 L563.88,89.51 L566.15,91.14 L568.43,92.77 L570.70,94.42 L572.98,96.11 L575.25,97.84 L577.52,99.60 L579.80,101.39 L582.07,103.22 L584.35,105.07 L586.62,106.95 L588.89,108.85 L591.17,110.77 L593.44,112.73 L595.72,114.73 L597.99,116.76 L600.26,118.81 L602.54,120.87 L604.81,122.93 L607.09,124.97 L609.36,126.99 L611.63,128.98 L613.91,130.93 L616.18,132.87 L618.46,134.80 L620.73,136.71 L623.00,138.61 L625.28,140.49 L627.55,142.37 L629.83,144.24 L632.10,146.10 L634.37,147.94 L636.65,149.76 L638.92,151.56 L641.19,153.32 L643.47,155.04 L645.74,156.73 L648.02,158.41 L650.29,160.12 L652.56,161.83 L654.84,163.55 L657.11,165.28 L659.39,167.03 L661.66,168.79 L663.93,170.58 L666.21,172.39 L668.48,174.20 L670.76,176.01 L673.03,177.82 L675.30,179.63 L677.58,181.44 L679.85,183.26 L682.13,185.08 L684.40,186.90" fill="none" stroke="#6c6c6c" stroke-width="1.4"/>
</svg>
<circle cx="493.00" cy="51.00" r="2.6" fill="#000" stroke="#000" stroke-width="0.6"/>
<circle cx="543.80" cy="78.40" r="2.6" fill="#000" stroke="#000" stroke-width="0.6"/>
<circle cx="573.50" cy="99.00" r="2.6" fill="#000" stroke="#000" stroke-width="0.6"/>
<circle cx="594.70" cy="117.40" r="2.6" fill="#000" stroke="#000" stroke-width="0.6"/>
<circle cx="610.80" cy="131.60" r="2.6" fill="#000" stroke="#000" stroke-width="0.6"/>
<circle cx="624.30" cy="140.30" r="2.6" fill="#000" stroke="#000" stroke-width="0.6"/>
<circle cx="493.00" cy="59.90" r="2.6" fill="#878787" stroke="#333" stroke-width="0.75"/>
<circle cx="543.80" cy="81.30" r="2.6" fill="#878787" stroke="#333" stroke-width="0.75"/>
<circle cx="573.60" cy="99.60" r="2.6" fill="#878787" stroke="#333" stroke-width="0.75"/>
<circle cx="594.70" cy="117.90" r="2.6" fill="#878787" stroke="#333" stroke-width="0.75"/>
<circle cx="610.80" cy="132.30" r="2.6" fill="#878787" stroke="#333" stroke-width="0.75"/>
<circle cx="624.30" cy="140.90" r="2.6" fill="#878787" stroke="#333" stroke-width="0.75"/>
<circle cx="494.00" cy="106.70" r="2.6" fill="#878787" stroke="#333" stroke-width="0.75"/>
<circle cx="544.20" cy="109.90" r="2.6" fill="#878787" stroke="#333" stroke-width="0.75"/>
<circle cx="573.30" cy="114.00" r="2.6" fill="#878787" stroke="#333" stroke-width="0.75"/>
<circle cx="594.70" cy="123.60" r="2.6" fill="#878787" stroke="#333" stroke-width="0.75"/>
<circle cx="610.80" cy="134.60" r="2.6" fill="#878787" stroke="#333" stroke-width="0.75"/>
<circle cx="624.40" cy="141.60" r="2.6" fill="#878787" stroke="#333" stroke-width="0.75"/>
<circle cx="635.80" cy="149.60" r="2.6" fill="#878787" stroke="#333" stroke-width="0.75"/>
<circle cx="644.80" cy="158.00" r="2.6" fill="#878787" stroke="#333" stroke-width="0.75"/>
<circle cx="653.70" cy="164.60" r="2.6" fill="#878787" stroke="#333" stroke-width="0.75"/>
<circle cx="661.40" cy="170.70" r="2.6" fill="#878787" stroke="#333" stroke-width="0.75"/>
<circle cx="668.40" cy="176.80" r="2.6" fill="#878787" stroke="#333" stroke-width="0.75"/>
<circle cx="675.30" cy="181.90" r="2.6" fill="#878787" stroke="#333" stroke-width="0.75"/>
<circle cx="681.40" cy="186.20" r="2.6" fill="#878787" stroke="#333" stroke-width="0.75"/>
<text x="677.8" y="40.9" font-size="12" text-anchor="end" fill="#000" stroke="#000" stroke-width="0.08"><tspan font-style="italic">k</tspan> = 0.0132 μN m<tspan dy="-5.2" font-size="9">−1</tspan></text>
<text x="677.8" y="56.1" font-size="12" text-anchor="end" fill="#8c8c8c" stroke="#8c8c8c" stroke-width="0.08">1.32 μN m<tspan dy="-5.2" font-size="9">−1</tspan></text>
<text x="677.8" y="70.8" font-size="12" text-anchor="end" fill="#a0a0a0" stroke="#a0a0a0" stroke-width="0.08">60 μN m<tspan dy="-5.2" font-size="9">−1</tspan></text>
<text x="549.1" y="231.9" font-size="13.8" text-anchor="middle" fill="#1e1e1e" stroke="#1e1e1e" stroke-width="0.2"><tspan font-style="italic">q</tspan> [10<tspan dy="-5.9" font-size="10">7</tspan><tspan dy="5.9"> m</tspan><tspan dy="-5.9" font-size="10">−1</tspan><tspan dy="5.9">]</tspan></text>
<text transform="translate(375.3,104.9) rotate(-90)" x="0" y="0" font-size="14.3" text-anchor="middle" fill="#1e1e1e" stroke="#1e1e1e" stroke-width="0.2">MSD [10<tspan dy="-5.9" font-size="10">−20</tspan><tspan dy="5.9"> m</tspan><tspan dy="-5.9" font-size="10">2</tspan><tspan dy="5.9">]</tspan></text>
<line x1="53.40" y1="440.60" x2="53.40" y2="432.60" stroke="#3c3c3c" stroke-width="1" />
<line x1="80.60" y1="440.60" x2="80.60" y2="436.60" stroke="#3c3c3c" stroke-width="1" />
<line x1="96.52" y1="440.60" x2="96.52" y2="436.60" stroke="#3c3c3c" stroke-width="1" />
<line x1="107.81" y1="440.60" x2="107.81" y2="436.60" stroke="#3c3c3c" stroke-width="1" />
<line x1="116.56" y1="440.60" x2="116.56" y2="436.60" stroke="#3c3c3c" stroke-width="1" />
<line x1="123.72" y1="440.60" x2="123.72" y2="436.60" stroke="#3c3c3c" stroke-width="1" />
<line x1="129.77" y1="440.60" x2="129.77" y2="436.60" stroke="#3c3c3c" stroke-width="1" />
<line x1="135.01" y1="440.60" x2="135.01" y2="436.60" stroke="#3c3c3c" stroke-width="1" />
<line x1="139.63" y1="440.60" x2="139.63" y2="436.60" stroke="#3c3c3c" stroke-width="1" />
<line x1="143.77" y1="440.60" x2="143.77" y2="432.60" stroke="#3c3c3c" stroke-width="1" />
<line x1="170.97" y1="440.60" x2="170.97" y2="436.60" stroke="#3c3c3c" stroke-width="1" />
<line x1="186.88" y1="440.60" x2="186.88" y2="436.60" stroke="#3c3c3c" stroke-width="1" />
<line x1="198.17" y1="440.60" x2="198.17" y2="436.60" stroke="#3c3c3c" stroke-width="1" />
<line x1="206.93" y1="440.60" x2="206.93" y2="436.60" stroke="#3c3c3c" stroke-width="1" />
<line x1="214.09" y1="440.60" x2="214.09" y2="436.60" stroke="#3c3c3c" stroke-width="1" />
<line x1="220.14" y1="440.60" x2="220.14" y2="436.60" stroke="#3c3c3c" stroke-width="1" />
<line x1="225.38" y1="440.60" x2="225.38" y2="436.60" stroke="#3c3c3c" stroke-width="1" />
<line x1="230.00" y1="440.60" x2="230.00" y2="436.60" stroke="#3c3c3c" stroke-width="1" />
<line x1="234.13" y1="440.60" x2="234.13" y2="432.60" stroke="#3c3c3c" stroke-width="1" />
<line x1="261.34" y1="440.60" x2="261.34" y2="436.60" stroke="#3c3c3c" stroke-width="1" />
<line x1="277.25" y1="440.60" x2="277.25" y2="436.60" stroke="#3c3c3c" stroke-width="1" />
<line x1="288.54" y1="440.60" x2="288.54" y2="436.60" stroke="#3c3c3c" stroke-width="1" />
<line x1="297.30" y1="440.60" x2="297.30" y2="436.60" stroke="#3c3c3c" stroke-width="1" />
<line x1="304.45" y1="440.60" x2="304.45" y2="436.60" stroke="#3c3c3c" stroke-width="1" />
<line x1="310.50" y1="440.60" x2="310.50" y2="436.60" stroke="#3c3c3c" stroke-width="1" />
<line x1="315.74" y1="440.60" x2="315.74" y2="436.60" stroke="#3c3c3c" stroke-width="1" />
<line x1="320.37" y1="440.60" x2="320.37" y2="436.60" stroke="#3c3c3c" stroke-width="1" />
<line x1="324.50" y1="440.60" x2="324.50" y2="432.60" stroke="#3c3c3c" stroke-width="1" />
<line x1="53.40" y1="440.60" x2="57.90" y2="440.60" stroke="#3c3c3c" stroke-width="1" />
<line x1="53.40" y1="414.29" x2="57.90" y2="414.29" stroke="#3c3c3c" stroke-width="1" />
<line x1="53.40" y1="398.90" x2="57.90" y2="398.90" stroke="#3c3c3c" stroke-width="1" />
<line x1="53.40" y1="387.98" x2="57.90" y2="387.98" stroke="#3c3c3c" stroke-width="1" />
<line x1="53.40" y1="379.51" x2="57.90" y2="379.51" stroke="#3c3c3c" stroke-width="1" />
<line x1="53.40" y1="372.59" x2="57.90" y2="372.59" stroke="#3c3c3c" stroke-width="1" />
<line x1="53.40" y1="366.74" x2="57.90" y2="366.74" stroke="#3c3c3c" stroke-width="1" />
<line x1="53.40" y1="361.67" x2="57.90" y2="361.67" stroke="#3c3c3c" stroke-width="1" />
<line x1="53.40" y1="357.20" x2="57.90" y2="357.20" stroke="#3c3c3c" stroke-width="1" />
<line x1="53.40" y1="353.20" x2="61.90" y2="353.20" stroke="#3c3c3c" stroke-width="1" />
<line x1="53.40" y1="326.89" x2="57.90" y2="326.89" stroke="#3c3c3c" stroke-width="1" />
<line x1="53.40" y1="311.50" x2="57.90" y2="311.50" stroke="#3c3c3c" stroke-width="1" />
<line x1="53.40" y1="300.58" x2="57.90" y2="300.58" stroke="#3c3c3c" stroke-width="1" />
<line x1="53.40" y1="292.11" x2="57.90" y2="292.11" stroke="#3c3c3c" stroke-width="1" />
<line x1="53.40" y1="285.19" x2="57.90" y2="285.19" stroke="#3c3c3c" stroke-width="1" />
<line x1="53.40" y1="279.34" x2="57.90" y2="279.34" stroke="#3c3c3c" stroke-width="1" />
<line x1="53.40" y1="274.27" x2="57.90" y2="274.27" stroke="#3c3c3c" stroke-width="1" />
<line x1="53.40" y1="269.80" x2="57.90" y2="269.80" stroke="#3c3c3c" stroke-width="1" />
<line x1="53.40" y1="265.80" x2="57.90" y2="265.80" stroke="#3c3c3c" stroke-width="1" />
<rect x="53.40" y="265.80" width="271.10" height="174.80" fill="none" stroke="#3c3c3c" stroke-width="1"/>
<text x="54.20" y="460.20" font-size="13.8" text-anchor="middle" fill="#1e1e1e" stroke="#1e1e1e" stroke-width="0.2">10<tspan dy="-6.3" font-size="10.2">1</tspan></text>
<text x="144.57" y="460.20" font-size="13.8" text-anchor="middle" fill="#1e1e1e" stroke="#1e1e1e" stroke-width="0.2">10<tspan dy="-6.3" font-size="10.2">2</tspan></text>
<text x="234.93" y="460.20" font-size="13.8" text-anchor="middle" fill="#1e1e1e" stroke="#1e1e1e" stroke-width="0.2">10<tspan dy="-6.3" font-size="10.2">3</tspan></text>
<text x="325.30" y="460.20" font-size="13.8" text-anchor="middle" fill="#1e1e1e" stroke="#1e1e1e" stroke-width="0.2">10<tspan dy="-6.3" font-size="10.2">4</tspan></text>
<text x="47.30" y="270.80" font-size="13.8" text-anchor="end" fill="#1e1e1e" stroke="#1e1e1e" stroke-width="0.2">10<tspan dy="-6.3" font-size="10.2">2</tspan></text>
<text x="47.30" y="357.90" font-size="13.8" text-anchor="end" fill="#1e1e1e" stroke="#1e1e1e" stroke-width="0.2">10<tspan dy="-6.3" font-size="10.2">1</tspan></text>
<text x="47.30" y="419.30" font-size="13.8" text-anchor="end" fill="#1e1e1e" stroke="#1e1e1e" stroke-width="0.2">10<tspan dy="-6.3" font-size="10.2">0</tspan></text>
<line x1="287.8" y1="265.9" x2="111.2" y2="434.3" stroke="#000" stroke-width="1.45" stroke-dasharray="3.0,2.5"/>
<circle cx="110.60" cy="434.50" r="2.75" fill="#6a6a6a" stroke="#3c3c3c" stroke-width="0.6"/>
<circle cx="130.60" cy="415.70" r="2.75" fill="#6a6a6a" stroke="#3c3c3c" stroke-width="0.6"/>
<circle cx="143.70" cy="402.90" r="2.75" fill="#6a6a6a" stroke="#3c3c3c" stroke-width="0.6"/>
<circle cx="162.80" cy="384.40" r="2.75" fill="#6a6a6a" stroke="#3c3c3c" stroke-width="0.6"/>
<circle cx="179.90" cy="367.90" r="2.75" fill="#6a6a6a" stroke="#3c3c3c" stroke-width="0.6"/>
<circle cx="192.60" cy="355.50" r="2.75" fill="#6a6a6a" stroke="#3c3c3c" stroke-width="0.6"/>
<circle cx="198.80" cy="348.90" r="2.75" fill="#6a6a6a" stroke="#3c3c3c" stroke-width="0.6"/>
<circle cx="209.00" cy="339.60" r="2.75" fill="#6a6a6a" stroke="#3c3c3c" stroke-width="0.6"/>
<circle cx="224.30" cy="324.80" r="2.75" fill="#6a6a6a" stroke="#3c3c3c" stroke-width="0.6"/>
<circle cx="240.30" cy="312.40" r="2.75" fill="#6a6a6a" stroke="#3c3c3c" stroke-width="0.6"/>
<text x="184.8" y="407.2" font-size="11.3" text-anchor="middle" fill="#000" stroke="#000" stroke-width="0.08">RBC</text>
<line x1="178.20" y1="409.20" x2="178.20" y2="425.00" stroke="#000" stroke-width="1.3" />
<polygon points="172.4,424.2 184.0,424.2 178.2,445.6" fill="#000"/>
<text x="188.5" y="483.7" font-size="13.8" text-anchor="middle" fill="#1e1e1e" stroke="#1e1e1e" stroke-width="0.2"><tspan font-style="italic">ρ</tspan> [10<tspan dy="-5.9" font-size="10">12</tspan><tspan dy="5.9"> m</tspan><tspan dy="-5.9" font-size="10">−2</tspan><tspan dy="5.9">]</tspan></text>
<text transform="translate(13.2,353.6) rotate(-90)" x="0" y="0" font-size="14" text-anchor="middle" fill="#1e1e1e" stroke="#1e1e1e" stroke-width="0.2"><tspan font-family="Liberation Serif" font-style="italic" font-size="12.5">γ</tspan><tspan dx="2.4"> [10</tspan><tspan dy="-5.9" font-size="10">6</tspan><tspan dy="5.9"> N m</tspan><tspan dy="-5.9" font-size="10">−3</tspan><tspan dy="5.9">]</tspan></text>
<line x1="414.30" y1="440.50" x2="414.30" y2="432.50" stroke="#3c3c3c" stroke-width="1" />
<line x1="427.85" y1="440.50" x2="427.85" y2="436.50" stroke="#3c3c3c" stroke-width="1" />
<line x1="435.78" y1="440.50" x2="435.78" y2="436.50" stroke="#3c3c3c" stroke-width="1" />
<line x1="441.40" y1="440.50" x2="441.40" y2="436.50" stroke="#3c3c3c" stroke-width="1" />
<line x1="445.77" y1="440.50" x2="445.77" y2="436.50" stroke="#3c3c3c" stroke-width="1" />
<line x1="449.33" y1="440.50" x2="449.33" y2="436.50" stroke="#3c3c3c" stroke-width="1" />
<line x1="452.34" y1="440.50" x2="452.34" y2="436.50" stroke="#3c3c3c" stroke-width="1" />
<line x1="454.95" y1="440.50" x2="454.95" y2="436.50" stroke="#3c3c3c" stroke-width="1" />
<line x1="457.26" y1="440.50" x2="457.26" y2="436.50" stroke="#3c3c3c" stroke-width="1" />
<line x1="459.32" y1="440.50" x2="459.32" y2="436.50" stroke="#3c3c3c" stroke-width="1" />
<line x1="472.87" y1="440.50" x2="472.87" y2="436.50" stroke="#3c3c3c" stroke-width="1" />
<line x1="480.80" y1="440.50" x2="480.80" y2="436.50" stroke="#3c3c3c" stroke-width="1" />
<line x1="486.42" y1="440.50" x2="486.42" y2="436.50" stroke="#3c3c3c" stroke-width="1" />
<line x1="490.78" y1="440.50" x2="490.78" y2="436.50" stroke="#3c3c3c" stroke-width="1" />
<line x1="494.35" y1="440.50" x2="494.35" y2="436.50" stroke="#3c3c3c" stroke-width="1" />
<line x1="497.36" y1="440.50" x2="497.36" y2="436.50" stroke="#3c3c3c" stroke-width="1" />
<line x1="499.97" y1="440.50" x2="499.97" y2="436.50" stroke="#3c3c3c" stroke-width="1" />
<line x1="502.27" y1="440.50" x2="502.27" y2="436.50" stroke="#3c3c3c" stroke-width="1" />
<line x1="504.33" y1="440.50" x2="504.33" y2="432.50" stroke="#3c3c3c" stroke-width="1" />
<line x1="517.88" y1="440.50" x2="517.88" y2="436.50" stroke="#3c3c3c" stroke-width="1" />
<line x1="525.81" y1="440.50" x2="525.81" y2="436.50" stroke="#3c3c3c" stroke-width="1" />
<line x1="531.44" y1="440.50" x2="531.44" y2="436.50" stroke="#3c3c3c" stroke-width="1" />
<line x1="535.80" y1="440.50" x2="535.80" y2="436.50" stroke="#3c3c3c" stroke-width="1" />
<line x1="539.36" y1="440.50" x2="539.36" y2="436.50" stroke="#3c3c3c" stroke-width="1" />
<line x1="542.38" y1="440.50" x2="542.38" y2="436.50" stroke="#3c3c3c" stroke-width="1" />
<line x1="544.99" y1="440.50" x2="544.99" y2="436.50" stroke="#3c3c3c" stroke-width="1" />
<line x1="547.29" y1="440.50" x2="547.29" y2="436.50" stroke="#3c3c3c" stroke-width="1" />
<line x1="549.35" y1="440.50" x2="549.35" y2="436.50" stroke="#3c3c3c" stroke-width="1" />
<line x1="562.90" y1="440.50" x2="562.90" y2="436.50" stroke="#3c3c3c" stroke-width="1" />
<line x1="570.83" y1="440.50" x2="570.83" y2="436.50" stroke="#3c3c3c" stroke-width="1" />
<line x1="576.45" y1="440.50" x2="576.45" y2="436.50" stroke="#3c3c3c" stroke-width="1" />
<line x1="580.82" y1="440.50" x2="580.82" y2="436.50" stroke="#3c3c3c" stroke-width="1" />
<line x1="584.38" y1="440.50" x2="584.38" y2="436.50" stroke="#3c3c3c" stroke-width="1" />
<line x1="587.39" y1="440.50" x2="587.39" y2="436.50" stroke="#3c3c3c" stroke-width="1" />
<line x1="590.00" y1="440.50" x2="590.00" y2="436.50" stroke="#3c3c3c" stroke-width="1" />
<line x1="592.31" y1="440.50" x2="592.31" y2="436.50" stroke="#3c3c3c" stroke-width="1" />
<line x1="594.37" y1="440.50" x2="594.37" y2="432.50" stroke="#3c3c3c" stroke-width="1" />
<line x1="607.92" y1="440.50" x2="607.92" y2="436.50" stroke="#3c3c3c" stroke-width="1" />
<line x1="615.85" y1="440.50" x2="615.85" y2="436.50" stroke="#3c3c3c" stroke-width="1" />
<line x1="621.47" y1="440.50" x2="621.47" y2="436.50" stroke="#3c3c3c" stroke-width="1" />
<line x1="625.83" y1="440.50" x2="625.83" y2="436.50" stroke="#3c3c3c" stroke-width="1" />
<line x1="629.40" y1="440.50" x2="629.40" y2="436.50" stroke="#3c3c3c" stroke-width="1" />
<line x1="632.41" y1="440.50" x2="632.41" y2="436.50" stroke="#3c3c3c" stroke-width="1" />
<line x1="635.02" y1="440.50" x2="635.02" y2="436.50" stroke="#3c3c3c" stroke-width="1" />
<line x1="637.32" y1="440.50" x2="637.32" y2="436.50" stroke="#3c3c3c" stroke-width="1" />
<line x1="639.38" y1="440.50" x2="639.38" y2="436.50" stroke="#3c3c3c" stroke-width="1" />
<line x1="652.93" y1="440.50" x2="652.93" y2="436.50" stroke="#3c3c3c" stroke-width="1" />
<line x1="660.86" y1="440.50" x2="660.86" y2="436.50" stroke="#3c3c3c" stroke-width="1" />
<line x1="666.49" y1="440.50" x2="666.49" y2="436.50" stroke="#3c3c3c" stroke-width="1" />
<line x1="670.85" y1="440.50" x2="670.85" y2="436.50" stroke="#3c3c3c" stroke-width="1" />
<line x1="674.41" y1="440.50" x2="674.41" y2="436.50" stroke="#3c3c3c" stroke-width="1" />
<line x1="677.43" y1="440.50" x2="677.43" y2="436.50" stroke="#3c3c3c" stroke-width="1" />
<line x1="680.04" y1="440.50" x2="680.04" y2="436.50" stroke="#3c3c3c" stroke-width="1" />
<line x1="682.34" y1="440.50" x2="682.34" y2="436.50" stroke="#3c3c3c" stroke-width="1" />
<line x1="684.40" y1="440.50" x2="684.40" y2="432.50" stroke="#3c3c3c" stroke-width="1" />
<line x1="414.30" y1="440.50" x2="422.80" y2="440.50" stroke="#3c3c3c" stroke-width="1" />
<line x1="414.30" y1="433.93" x2="418.80" y2="433.93" stroke="#3c3c3c" stroke-width="1" />
<line x1="414.30" y1="430.09" x2="418.80" y2="430.09" stroke="#3c3c3c" stroke-width="1" />
<line x1="414.30" y1="427.37" x2="418.80" y2="427.37" stroke="#3c3c3c" stroke-width="1" />
<line x1="414.30" y1="425.25" x2="418.80" y2="425.25" stroke="#3c3c3c" stroke-width="1" />
<line x1="414.30" y1="423.53" x2="418.80" y2="423.53" stroke="#3c3c3c" stroke-width="1" />
<line x1="414.30" y1="422.07" x2="418.80" y2="422.07" stroke="#3c3c3c" stroke-width="1" />
<line x1="414.30" y1="420.80" x2="418.80" y2="420.80" stroke="#3c3c3c" stroke-width="1" />
<line x1="414.30" y1="419.69" x2="418.80" y2="419.69" stroke="#3c3c3c" stroke-width="1" />
<line x1="414.30" y1="418.69" x2="418.80" y2="418.69" stroke="#3c3c3c" stroke-width="1" />
<line x1="414.30" y1="412.12" x2="418.80" y2="412.12" stroke="#3c3c3c" stroke-width="1" />
<line x1="414.30" y1="408.28" x2="418.80" y2="408.28" stroke="#3c3c3c" stroke-width="1" />
<line x1="414.30" y1="405.56" x2="418.80" y2="405.56" stroke="#3c3c3c" stroke-width="1" />
<line x1="414.30" y1="403.44" x2="418.80" y2="403.44" stroke="#3c3c3c" stroke-width="1" />
<line x1="414.30" y1="401.71" x2="418.80" y2="401.71" stroke="#3c3c3c" stroke-width="1" />
<line x1="414.30" y1="400.25" x2="418.80" y2="400.25" stroke="#3c3c3c" stroke-width="1" />
<line x1="414.30" y1="398.99" x2="418.80" y2="398.99" stroke="#3c3c3c" stroke-width="1" />
<line x1="414.30" y1="397.87" x2="418.80" y2="397.87" stroke="#3c3c3c" stroke-width="1" />
<line x1="414.30" y1="396.88" x2="422.80" y2="396.88" stroke="#3c3c3c" stroke-width="1" />
<line x1="414.30" y1="390.31" x2="418.80" y2="390.31" stroke="#3c3c3c" stroke-width="1" />
<line x1="414.30" y1="386.47" x2="418.80" y2="386.47" stroke="#3c3c3c" stroke-width="1" />
<line x1="414.30" y1="383.74" x2="418.80" y2="383.74" stroke="#3c3c3c" stroke-width="1" />
<line x1="414.30" y1="381.63" x2="418.80" y2="381.63" stroke="#3c3c3c" stroke-width="1" />
<line x1="414.30" y1="379.90" x2="418.80" y2="379.90" stroke="#3c3c3c" stroke-width="1" />
<line x1="414.30" y1="378.44" x2="418.80" y2="378.44" stroke="#3c3c3c" stroke-width="1" />
<line x1="414.30" y1="377.18" x2="418.80" y2="377.18" stroke="#3c3c3c" stroke-width="1" />
<line x1="414.30" y1="376.06" x2="418.80" y2="376.06" stroke="#3c3c3c" stroke-width="1" />
<line x1="414.30" y1="375.06" x2="418.80" y2="375.06" stroke="#3c3c3c" stroke-width="1" />
<line x1="414.30" y1="368.50" x2="418.80" y2="368.50" stroke="#3c3c3c" stroke-width="1" />
<line x1="414.30" y1="364.66" x2="418.80" y2="364.66" stroke="#3c3c3c" stroke-width="1" />
<line x1="414.30" y1="361.93" x2="418.80" y2="361.93" stroke="#3c3c3c" stroke-width="1" />
<line x1="414.30" y1="359.82" x2="418.80" y2="359.82" stroke="#3c3c3c" stroke-width="1" />
<line x1="414.30" y1="358.09" x2="418.80" y2="358.09" stroke="#3c3c3c" stroke-width="1" />
<line x1="414.30" y1="356.63" x2="418.80" y2="356.63" stroke="#3c3c3c" stroke-width="1" />
<line x1="414.30" y1="355.36" x2="418.80" y2="355.36" stroke="#3c3c3c" stroke-width="1" />
<line x1="414.30" y1="354.25" x2="418.80" y2="354.25" stroke="#3c3c3c" stroke-width="1" />
<line x1="414.30" y1="353.25" x2="422.80" y2="353.25" stroke="#3c3c3c" stroke-width="1" />
<line x1="414.30" y1="346.68" x2="418.80" y2="346.68" stroke="#3c3c3c" stroke-width="1" />
<line x1="414.30" y1="342.84" x2="418.80" y2="342.84" stroke="#3c3c3c" stroke-width="1" />
<line x1="414.30" y1="340.12" x2="418.80" y2="340.12" stroke="#3c3c3c" stroke-width="1" />
<line x1="414.30" y1="338.00" x2="418.80" y2="338.00" stroke="#3c3c3c" stroke-width="1" />
<line x1="414.30" y1="336.28" x2="418.80" y2="336.28" stroke="#3c3c3c" stroke-width="1" />
<line x1="414.30" y1="334.82" x2="418.80" y2="334.82" stroke="#3c3c3c" stroke-width="1" />
<line x1="414.30" y1="333.55" x2="418.80" y2="333.55" stroke="#3c3c3c" stroke-width="1" />
<line x1="414.30" y1="332.44" x2="418.80" y2="332.44" stroke="#3c3c3c" stroke-width="1" />
<line x1="414.30" y1="331.44" x2="418.80" y2="331.44" stroke="#3c3c3c" stroke-width="1" />
<line x1="414.30" y1="324.87" x2="418.80" y2="324.87" stroke="#3c3c3c" stroke-width="1" />
<line x1="414.30" y1="321.03" x2="418.80" y2="321.03" stroke="#3c3c3c" stroke-width="1" />
<line x1="414.30" y1="318.31" x2="418.80" y2="318.31" stroke="#3c3c3c" stroke-width="1" />
<line x1="414.30" y1="316.19" x2="418.80" y2="316.19" stroke="#3c3c3c" stroke-width="1" />
<line x1="414.30" y1="314.46" x2="418.80" y2="314.46" stroke="#3c3c3c" stroke-width="1" />
<line x1="414.30" y1="313.00" x2="418.80" y2="313.00" stroke="#3c3c3c" stroke-width="1" />
<line x1="414.30" y1="311.74" x2="418.80" y2="311.74" stroke="#3c3c3c" stroke-width="1" />
<line x1="414.30" y1="310.62" x2="418.80" y2="310.62" stroke="#3c3c3c" stroke-width="1" />
<line x1="414.30" y1="309.62" x2="422.80" y2="309.62" stroke="#3c3c3c" stroke-width="1" />
<line x1="414.30" y1="303.06" x2="418.80" y2="303.06" stroke="#3c3c3c" stroke-width="1" />
<line x1="414.30" y1="299.22" x2="418.80" y2="299.22" stroke="#3c3c3c" stroke-width="1" />
<line x1="414.30" y1="296.49" x2="418.80" y2="296.49" stroke="#3c3c3c" stroke-width="1" />
<line x1="414.30" y1="294.38" x2="418.80" y2="294.38" stroke="#3c3c3c" stroke-width="1" />
<line x1="414.30" y1="292.65" x2="418.80" y2="292.65" stroke="#3c3c3c" stroke-width="1" />
<line x1="414.30" y1="291.19" x2="418.80" y2="291.19" stroke="#3c3c3c" stroke-width="1" />
<line x1="414.30" y1="289.93" x2="418.80" y2="289.93" stroke="#3c3c3c" stroke-width="1" />
<line x1="414.30" y1="288.81" x2="418.80" y2="288.81" stroke="#3c3c3c" stroke-width="1" />
<line x1="414.30" y1="287.81" x2="418.80" y2="287.81" stroke="#3c3c3c" stroke-width="1" />
<line x1="414.30" y1="281.25" x2="418.80" y2="281.25" stroke="#3c3c3c" stroke-width="1" />
<line x1="414.30" y1="277.41" x2="418.80" y2="277.41" stroke="#3c3c3c" stroke-width="1" />
<line x1="414.30" y1="274.68" x2="418.80" y2="274.68" stroke="#3c3c3c" stroke-width="1" />
<line x1="414.30" y1="272.57" x2="418.80" y2="272.57" stroke="#3c3c3c" stroke-width="1" />
<line x1="414.30" y1="270.84" x2="418.80" y2="270.84" stroke="#3c3c3c" stroke-width="1" />
<line x1="414.30" y1="269.38" x2="418.80" y2="269.38" stroke="#3c3c3c" stroke-width="1" />
<line x1="414.30" y1="268.11" x2="418.80" y2="268.11" stroke="#3c3c3c" stroke-width="1" />
<line x1="414.30" y1="267.00" x2="418.80" y2="267.00" stroke="#3c3c3c" stroke-width="1" />
<line x1="414.30" y1="266.00" x2="422.80" y2="266.00" stroke="#3c3c3c" stroke-width="1" />
<rect x="414.30" y="266.00" width="270.10" height="174.50" fill="none" stroke="#3c3c3c" stroke-width="1"/>
<text x="415.10" y="460.20" font-size="13.8" text-anchor="middle" fill="#1e1e1e" stroke="#1e1e1e" stroke-width="0.2">10<tspan dy="-6.3" font-size="10.2">0</tspan></text>
<text x="505.13" y="460.20" font-size="13.8" text-anchor="middle" fill="#1e1e1e" stroke="#1e1e1e" stroke-width="0.2">10<tspan dy="-6.3" font-size="10.2">2</tspan></text>
<text x="595.17" y="460.20" font-size="13.8" text-anchor="middle" fill="#1e1e1e" stroke="#1e1e1e" stroke-width="0.2">10<tspan dy="-6.3" font-size="10.2">4</tspan></text>
<text x="407.60" y="270.20" font-size="13.8" text-anchor="end" fill="#1e1e1e" stroke="#1e1e1e" stroke-width="0.2">10<tspan dy="-6.3" font-size="10.2">6</tspan></text>
<text x="407.60" y="313.82" font-size="13.8" text-anchor="end" fill="#1e1e1e" stroke="#1e1e1e" stroke-width="0.2">10<tspan dy="-6.3" font-size="10.2">4</tspan></text>
<text x="407.60" y="357.45" font-size="13.8" text-anchor="end" fill="#1e1e1e" stroke="#1e1e1e" stroke-width="0.2">10<tspan dy="-6.3" font-size="10.2">2</tspan></text>
<text x="407.60" y="401.07" font-size="13.8" text-anchor="end" fill="#1e1e1e" stroke="#1e1e1e" stroke-width="0.2">10<tspan dy="-6.3" font-size="10.2">0</tspan></text>
<svg x="414.3" y="266.0" width="270.1" height="174.5" viewBox="414.3 266.0 270.1 174.5" overflow="hidden">
<line x1="684.4" y1="296.35" x2="418.3" y2="421.7" stroke="#000" stroke-width="1.45" stroke-dasharray="3.0,2.5"/>
</svg>
<circle cx="418.30" cy="421.70" r="2.75" fill="#6a6a6a" stroke="#3c3c3c" stroke-width="0.6"/>
<circle cx="448.40" cy="407.70" r="2.75" fill="#6a6a6a" stroke="#3c3c3c" stroke-width="0.6"/>
<circle cx="464.00" cy="400.00" r="2.75" fill="#6a6a6a" stroke="#3c3c3c" stroke-width="0.6"/>
<circle cx="493.50" cy="385.90" r="2.75" fill="#6a6a6a" stroke="#3c3c3c" stroke-width="0.6"/>
<circle cx="509.00" cy="378.30" r="2.75" fill="#6a6a6a" stroke="#3c3c3c" stroke-width="0.6"/>
<circle cx="538.60" cy="364.00" r="2.75" fill="#6a6a6a" stroke="#3c3c3c" stroke-width="0.6"/>
<circle cx="554.00" cy="356.40" r="2.75" fill="#6a6a6a" stroke="#3c3c3c" stroke-width="0.6"/>
<circle cx="583.80" cy="341.90" r="2.75" fill="#6a6a6a" stroke="#3c3c3c" stroke-width="0.6"/>
<circle cx="599.30" cy="334.50" r="2.75" fill="#6a6a6a" stroke="#3c3c3c" stroke-width="0.6"/>
<circle cx="628.90" cy="321.80" r="2.75" fill="#6a6a6a" stroke="#3c3c3c" stroke-width="0.6"/>
<circle cx="673.80" cy="301.60" r="2.75" fill="#6a6a6a" stroke="#3c3c3c" stroke-width="0.6"/>
<text x="517.6" y="407.2" font-size="11.3" text-anchor="middle" fill="#000" stroke="#000" stroke-width="0.08">RBC</text>
<line x1="511.40" y1="409.50" x2="511.40" y2="426.00" stroke="#000" stroke-width="1.3" />
<polygon points="507.4,425.3 515.4,425.3 511.4,440.6" fill="#000"/>
<text x="549.3" y="483.7" font-size="13.8" text-anchor="middle" fill="#1e1e1e" stroke="#1e1e1e" stroke-width="0.2"><tspan font-style="italic">k</tspan> [10<tspan dy="-5.9" font-size="10">−10</tspan><tspan dy="5.9"> N m</tspan><tspan dy="-5.9" font-size="10">−1</tspan><tspan dy="5.9">]</tspan></text>
<text transform="translate(374.5,353.1) rotate(-90)" x="0" y="0" font-size="14" text-anchor="middle" fill="#1e1e1e" stroke="#1e1e1e" stroke-width="0.2"><tspan font-family="Liberation Serif" font-style="italic" font-size="12.5">γ</tspan><tspan dx="2.4"> [10</tspan><tspan dy="-5.9" font-size="10">6</tspan><tspan dy="5.9"> N m</tspan><tspan dy="-5.9" font-size="10">−3</tspan><tspan dy="5.9">]</tspan></text>
</svg>
</body></html>
